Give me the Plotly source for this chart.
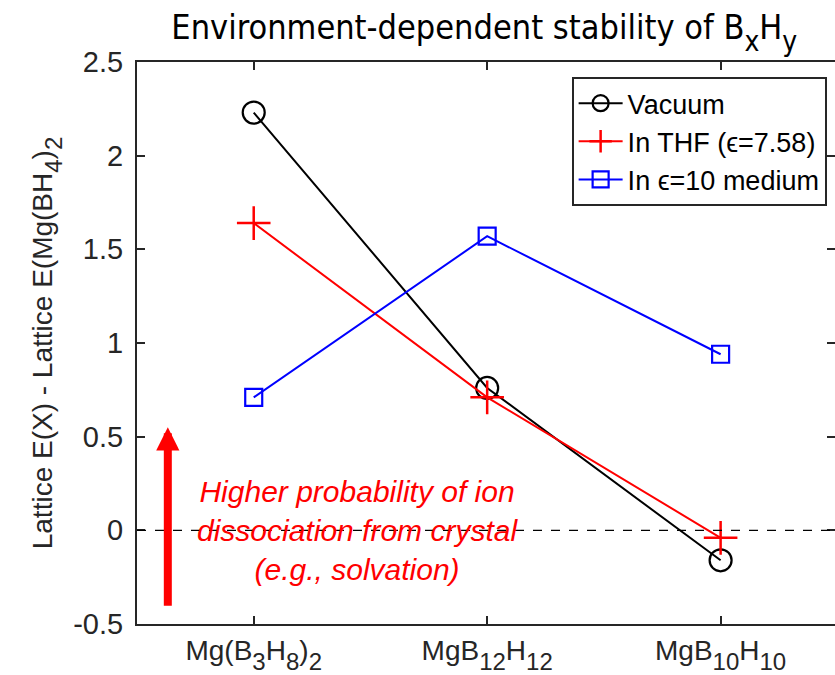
import plotly.graph_objects as go

# Compounds on the x axis (positions 1..3) and their tick labels
compounds = [1, 2, 3]


def sub(s, px):
    """Deep, near full-size subscript (two nested shifts, size restored)."""
    return f'<sub><sub><span style="font-size:{px}px">{s}</span></sub></sub>'


compound_labels = [
    f"Mg(B{sub('3', 24)}H{sub('8', 24)}){sub('2', 24)}",
    f"MgB{sub('12', 24)}H{sub('12', 24)}",
    f"MgB{sub('10', 24)}H{sub('10', 24)}",
]

# Lattice energy differences relative to Mg(BH4)2
vacuum = [2.23, 0.76, -0.16]
thf = [1.64, 0.71, -0.04]
eps10 = [0.71, 1.57, 0.94]

y_ticks = [-0.5, 0, 0.5, 1, 1.5, 2, 2.5]
y_tick_text = ["-0.5", "0", "0.5", "1", "1.5", "2", "2.5"]

AXIS = "#262626"
FONT = "Liberation Sans, Arial, sans-serif"
NARROW = ("Liberation Sans Narrow, Arial Narrow, DejaVu Sans Condensed, "
          "Roboto Condensed, Liberation Sans, sans-serif")

fig = go.Figure()

fig.add_trace(go.Scatter(
    x=compounds, y=vacuum, mode="lines+markers", name="Vacuum",
    line=dict(color="black", width=2),
    marker=dict(symbol="circle-open", size=22, color="black", line=dict(width=2.2)),
))
fig.add_trace(go.Scatter(
    x=compounds, y=thf, mode="lines+markers", name="In THF (\u03f5=7.58)",
    line=dict(color="#ff0000", width=2),
    marker=dict(symbol="cross-thin-open", size=24, color="#ff0000",
                line=dict(width=2.5, color="#ff0000")),
))
fig.add_trace(go.Scatter(
    x=compounds, y=eps10, mode="lines+markers", name="In \u03f5=10 medium",
    line=dict(color="#0000ff", width=2),
    marker=dict(symbol="square-open", size=17, color="#0000ff", line=dict(width=2.2)),
))

# Invisible trace that carries the right-hand tick marks
fig.add_trace(go.Scatter(
    x=[compounds[0]], y=[y_ticks[0]], yaxis="y2", mode="markers",
    marker=dict(opacity=0), showlegend=False, hoverinfo="skip",
))

# Zero reference line
fig.add_hline(y=0, line=dict(color="black", width=1.2, dash="dash"))

# Upward arrow with explanation
fig.add_annotation(
    x=0.632, y=0.55, ax=0.632, ay=-0.41, xref="x", yref="y", axref="x", ayref="y",
    text="", showarrow=True, arrowhead=2, arrowsize=0.58, arrowwidth=8,
    arrowcolor="#ff0000",
)
fig.add_annotation(
    x=1.445, y=0.0, xref="x", yref="y", showarrow=False,
    text="<i>Higher probability of ion<br>dissociation from crystal<br>(e.g., solvation)</i>",
    font=dict(family=FONT, size=30, color="#ff0000"), align="center",
)

fig.update_layout(
    width=835, height=675,
    margin=dict(l=137, r=0, t=62, b=51),
    paper_bgcolor="white", plot_bgcolor="white",
    title=dict(
        text=f"Environment-dependent stability of B{sub('x', 28)}H{sub('y', 28)}",
        x=0.58, xanchor="center", y=0.96, yanchor="middle",
        font=dict(family=NARROW, size=34, color="black"),
    ),
    font=dict(family=FONT, color=AXIS),
    showlegend=True,
    legend=dict(
        x=0.988, y=0.973, xanchor="right", yanchor="top",
        bgcolor="white", bordercolor="#262626", borderwidth=2,
        font=dict(family=FONT, size=27, color="black"),
        tracegroupgap=0, itemwidth=44,
    ),
    xaxis=dict(
        range=[0.5, 3.49], tickmode="array", tickvals=compounds, ticktext=compound_labels,
        ticks="inside", ticklen=8, tickwidth=2, tickcolor=AXIS,
        showline=True, linecolor=AXIS, linewidth=2, mirror="ticks",
        showgrid=False, zeroline=False,
        tickfont=dict(family=FONT, size=28, color=AXIS),
    ),
    yaxis=dict(
        range=[-0.5, 2.5], tickmode="array", tickvals=y_ticks, ticktext=y_tick_text,
        ticks="inside", ticklen=8, tickwidth=2, tickcolor=AXIS,
        showline=True, linecolor=AXIS, linewidth=2, mirror=False,
        showgrid=False, zeroline=False, ticklabelstandoff=6,
        tickfont=dict(family=FONT, size=29, color=AXIS),
        title=dict(
            text=f"Lattice E(X) - Lattice E(Mg(BH{sub('4', 24)}){sub('2', 24)}",
            font=dict(family=FONT, size=28, color=AXIS), standoff=12,
        ),
    ),
    yaxis2=dict(
        overlaying="y", side="right", anchor="x", range=[-0.5, 2.5],
        tickmode="array", tickvals=y_ticks, showticklabels=False,
        ticks="inside", ticklen=8, tickwidth=2, tickcolor=AXIS,
        showline=False, showgrid=False, zeroline=False,
    ),
)

fig.write_html("out.html")
